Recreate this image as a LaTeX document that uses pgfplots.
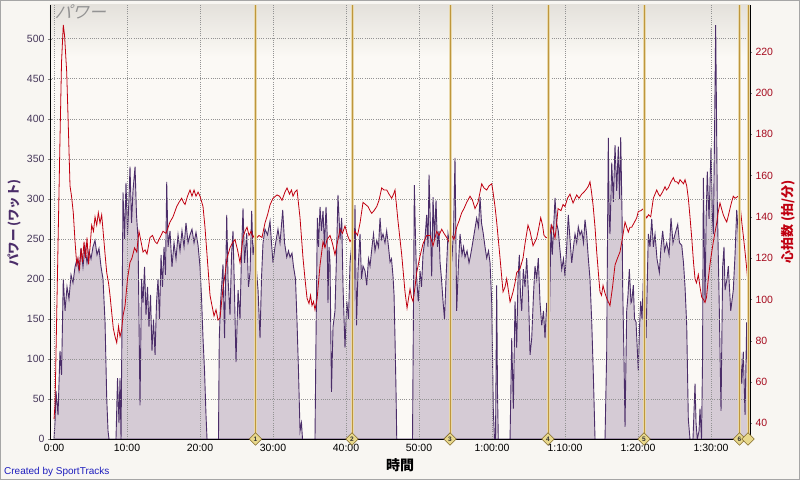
\documentclass[border=0pt]{standalone}
\usepackage{fontspec}
\setmainfont{Liberation Sans}
\newfontfamily\cjk{Noto Sans CJK JP}
\usepackage{pgfplots}
\pgfplotsset{compat=1.18}

\definecolor{outerbg}{RGB}{248,246,242}
\definecolor{plotbg}{RGB}{251,249,245}
\definecolor{plottop}{RGB}{228,225,219}
\definecolor{powline}{RGB}{75,45,105}
\definecolor{powfill}{RGB}{213,203,213}
\definecolor{hrline}{RGB}{192,0,16}
\definecolor{powtick}{RGB}{70,55,90}
\definecolor{hrtick}{RGB}{165,10,30}
\definecolor{lapline}{RGB}{190,150,60}
\definecolor{lapglow}{RGB}{232,216,170}
\definecolor{lapfill}{RGB}{232,216,140}
\definecolor{lapedge}{RGB}{130,105,40}
\definecolor{created}{RGB}{30,30,190}
\pgfdeclareverticalshading{plotshade}{100bp}{color(0bp)=(plotbg); color(69bp)=(plotbg); color(75bp)=(plottop); color(100bp)=(plottop)}

\pgfplotsset{
  base/.style={at={(50pt,41pt)}, anchor=south west, scale only axis,
    width=700pt, height=434pt, xmin=-0.55, xmax=95.34},
  ticks/.style={tick align=outside, major tick length=4pt,
    tick label style={font=\fontsize{10.5}{12}\selectfont},
    /pgf/number format/assume math mode=true},
}

\begin{document}
\begin{tikzpicture}
\useasboundingbox (0,0) rectangle (800pt,480pt);
\fill[outerbg] (0,0) rectangle (800pt,480pt);
\draw[gray!70] (0.5pt,0.5pt) rectangle (799.5pt,479.5pt);

% power
\begin{axis}[base, ticks,
    ymin=0, ymax=542,
    axis x line=bottom, axis y line=left, axis line style={-, black},
    axis background/.style={shade, shading=plotshade},
    axis on top,
    xtick={0,10,...,90},
    xticklabels={0:00,10:00,20:00,30:00,40:00,50:00,1:00:00,1:10:00,1:20:00,1:30:00},
    xtick style={draw=none},
    ytick={0,50,...,500},
    yticklabel style={text=powtick},
    grid=major, grid style={gray!85, dash pattern=on 1pt off 1.2pt},
  ]
  \addplot[draw=powline, fill=powfill, line width=0.9pt] coordinates {
(0,0)(0.14,22)(0.27,60)(0.55,30)(0.82,110)(1.03,80)(1.27,200)(1.51,160)(1.78,190)(2.05,175)(2.33,205)(2.60,195)(2.88,215)(3.15,225)(3.42,210)(3.70,238)(3.97,215)(4.25,240)(4.52,220)(4.79,235)(5.07,225)(5.34,240)(5.62,248)(5.89,230)(6.16,238)(6.44,215)(6.71,200)(6.99,146)(7.22,51)(7.40,10)(7.53,0)(8.49,0)(8.70,76)(8.90,20)(9.04,76)(9.18,0)(9.32,150)(9.45,308)(9.66,250)(9.86,320)(10.07,255)(10.27,300)(10.41,340)(10.62,270)(10.82,310)(11.10,340)(11.30,280)(11.51,250)(11.78,42)(11.99,200)(12.19,170)(12.40,215)(12.60,155)(12.81,190)(13.01,140)(13.22,180)(13.42,110)(13.63,150)(13.84,105)(14.04,170)(14.25,200)(14.45,150)(14.66,230)(14.86,190)(15.07,240)(15.27,205)(15.44,321)(15.62,240)(15.89,260)(16.16,215)(16.44,245)(16.71,225)(16.99,255)(17.26,235)(17.53,260)(17.81,240)(18.08,270)(18.36,245)(18.63,255)(18.90,262)(19.18,245)(19.45,258)(19.73,242)(20.00,215)(20.21,176)(20.41,126)(20.62,85)(20.82,30)(20.96,0)
(22.53,0)(22.64,126)(22.81,170)(22.97,192)(23.15,218)(23.36,126)(23.66,280)(23.84,200)(24.11,155)(24.32,230)(24.52,260)(24.73,180)(24.93,96)(25.21,186)(25.48,150)(25.68,230)(25.89,288)(26.10,220)(26.40,257)(26.64,190)(26.85,208)(27.08,285)(27.26,230)(27.53,250)(27.74,210)(27.95,186)(28.22,126)(28.42,200)(28.63,245)(28.90,262)(29.25,255)(29.59,272)(29.79,245)(30.00,220)(30.27,240)(30.68,262)(30.96,245)(31.33,286)(31.58,245)(31.88,227)(32.12,235)(32.33,227)(32.60,232)(32.81,215)(33.08,200)(33.29,146)(33.49,85)(33.70,10)(33.90,20)(34.04,0)
(35.75,0)(35.89,126)(36.07,276)(36.23,240)(36.44,290)(36.64,260)(36.85,285)(37.05,240)(37.26,290)(37.40,260)(37.53,170)(37.67,240)(37.81,220)(38.01,59)(38.22,140)(38.49,160)(38.70,230)(38.90,305)(39.18,250)(39.41,276)(39.59,190)(39.86,114)(40.10,172)(40.34,150)(40.55,220)(40.75,240)(40.92,126)(41.10,200)(41.23,292)(41.44,142)(41.64,210)(41.92,256)(42.12,200)(42.33,216)(42.60,210)(42.84,192)(43.08,225)(43.29,216)(43.56,240)(43.77,256)(43.97,235)(44.21,248)(44.45,240)(44.66,276)(44.86,250)(45.07,256)(45.34,245)(45.57,260)(45.82,240)(46.03,221)(46.23,225)(46.44,203)(46.58,180)(46.71,126)(46.85,60)(46.95,0)
(49.11,0)(49.36,317)(49.52,250)(49.66,203)(49.90,172)(50.14,210)(50.34,190)(50.55,231)(50.82,250)(51.05,280)(51.23,240)(51.37,330)(51.58,260)(51.74,203)(51.92,302)(52.12,250)(52.33,298)(52.53,240)(52.74,260)(52.88,221)(53.08,200)(53.29,172)(53.49,150)(53.70,200)(53.97,256)(54.25,240)(54.48,221)(54.73,260)(54.93,351)(55.16,160)(55.41,220)(55.62,256)(55.89,230)(56.10,240)(56.30,227)(56.58,235)(56.85,220)(56.99,226)(57.26,240)(57.53,255)(57.90,276)(58.15,265)(58.36,302)(58.56,270)(58.81,256)(59.04,240)(59.27,226)(59.52,235)(59.73,220)(59.96,170)(60.18,35)(60.34,0)(60.48,0)(60.64,192)(60.75,60)(60.86,0)
(62.47,0)(62.70,126)(62.92,38)(63.15,172)(63.38,114)(63.56,200)(63.74,230)(63.90,180)(64.07,160)(64.29,212)(64.52,190)(64.75,226)(65.00,180)(65.21,105)(65.44,126)(65.68,180)(65.89,216)(66.12,200)(66.34,226)(66.58,170)(66.81,142)(67.05,160)(67.26,126)(67.49,170)(67.67,150)(67.85,142)(68.08,268)(68.25,230)(68.40,256)(68.63,301)(68.84,270)(69.08,260)(69.32,235)(69.55,212)(69.79,225)(70.00,203)(70.23,240)(70.45,280)(70.68,250)(70.92,220)(71.16,240)(71.37,256)(71.60,245)(71.82,265)(72.05,255)(72.29,260)(72.53,245)(72.74,274)(72.97,255)(73.19,226)(73.42,200)(73.66,146)(73.88,80)(74.11,0)
(75.48,0)(75.71,109)(75.82,250)(75.93,376)(76.05,280)(76.16,256)(76.40,345)(76.62,296)(76.85,367)(77.08,310)(77.30,365)(77.47,300)(77.63,377)(77.81,280)(77.90,190)(78.08,100)(78.22,15)(78.45,160)(78.63,180)(78.81,212)(79.04,170)(79.14,172)(79.36,192)(79.52,150)(79.73,146)(79.86,120)(80.04,85)(80.21,140)(80.37,172)(80.55,150)(80.73,200)(80.89,180)(81.10,126)(81.23,180)(81.41,256)(81.64,240)(81.88,275)(82.10,240)(82.33,256)(82.60,225)(82.92,208)(83.15,240)(83.38,260)(83.63,235)(83.93,245)(84.25,230)(84.52,276)(84.79,245)(85.07,256)(85.44,268)(85.68,245)(85.99,242)(86.23,220)(86.44,190)(86.67,142)(86.89,25)(87.12,0)
(87.53,0)(87.81,69)(87.95,20)(88.12,0)(88.36,10)(88.49,38)(88.70,0)(88.84,100)(88.95,326)(89.18,172)(89.34,280)(89.49,334)(89.73,275)(90.00,364)(90.18,280)(90.32,256)(90.48,380)(90.64,517)(90.86,296)(91.14,160)(91.37,35)(91.60,216)(91.78,240)(91.92,186)(92.19,200)(92.37,216)(92.70,160)(93.05,186)(93.29,230)(93.52,286)(93.74,256)(93.97,126)(94.21,69)(94.42,109)(94.66,30)(94.89,146)(95.11,35)
  } \closedcycle;
\end{axis}

% heart rate
\begin{axis}[base, ticks,
    ymin=32.4, ymax=242.6,
    axis x line=none, axis y line=right, axis line style={-, black, line width=1pt},
    ytick={40,60,...,220},
    yticklabel style={text=hrtick},
  ]
  \addplot[hrline, line width=0.8pt] coordinates {
(0,42)(0.14,49)(0.41,100)(0.62,140)(0.82,178)(1.03,215)(1.27,233)(1.44,228)(1.74,210)(1.99,180)(2.19,155)(2.40,150)(2.64,142)(2.88,128)(3.11,117)(3.29,120)(3.49,114)(3.70,125)(3.90,118)(4.11,128)(4.32,120)(4.52,130)(4.73,117)(4.93,125)(5.16,136)(5.41,133)(5.62,140)(5.85,136)(6.07,142)(6.30,137)(6.53,141)(6.75,132)(6.99,122)(7.22,113)(7.47,108)(7.67,102)(7.95,92)(8.12,86)(8.36,82)(8.59,79)(8.84,87)(9.04,82)(9.25,85)(9.45,92)(9.73,97)(10.07,110)(10.41,118)(10.68,120)(11.03,125)(11.33,123)(11.64,133)(11.92,128)(12.19,123)(12.47,124)(12.74,122)(13.15,130)(13.49,131)(13.84,128)(14.11,127)(14.52,130)(14.93,133)(15.34,132)(15.89,137.5)(16.30,140)(16.81,145)(17.12,147)(17.49,149)(17.74,147)(17.95,146)(18.29,150)(18.63,153)(18.90,150)(19.18,153)(19.45,150)(19.73,152)(20.00,150)
(20.41,145)(20.68,135)(20.96,121.6)(21.37,102)(21.64,97)(21.92,92)(22.19,95)(22.47,90)(22.74,91)(23.15,105.5)(23.42,112)(23.70,120)(24.11,125)(24.38,127)(24.79,129)(25.14,124)(25.48,117.8)(25.89,130)(26.16,133)(26.44,135)(26.71,131)(26.99,133)(27.26,130)(27.53,132)(27.81,130)(28.08,131)(28.49,130)(28.90,137)(29.25,141)(29.59,145.8)(30.00,149)(30.55,150.6)(30.89,150)(31.23,148)(31.64,152)(31.92,154)(32.26,151)(32.53,153)(32.74,150)(33.01,152)(33.29,153)(33.70,139.5)(34.11,120)(34.38,110)(34.66,100.6)(34.93,98)(35.14,102)(35.34,97)(35.55,99)(35.75,95)(36.03,100)(36.44,116.6)(36.85,128)(37.12,125)(37.40,129)(37.81,131)
(38.15,127)(38.49,121.6)(38.84,128)(39.18,134)(39.52,132)(39.86,135.6)(40.21,131)(40.55,128)(40.89,130)(41.23,133)(41.58,131)(41.92,137)(42.33,147)(42.67,146)(43.01,145)(43.29,143)(43.52,141.7)(43.84,143)(44.21,145)(44.52,148)(44.89,154)(45.21,153)(45.58,153)(45.89,151)(46.26,149)(46.51,151)(46.71,153)(47.12,138)(47.63,121.6)(48.08,103.7)(48.36,95.8)(48.63,102)(48.77,105)(48.97,101)(49.18,99)(49.45,106)(49.68,113)(50.14,121)(50.55,127)(51.05,131)(51.51,131)(51.92,126)(52.42,133)(52.74,131)(53.11,134)(53.42,132)(53.79,130)(54.11,128)(54.48,131)(54.79,129)(55.16,135)(55.48,138)(55.85,142)(56.16,144)(56.53,147)
(56.99,150)(57.33,148)(57.67,144)(58.08,147)(58.36,152)(58.59,156)(58.90,154)(59.27,153)(59.59,155)(59.96,156)(60.14,152)(60.41,145)(60.64,137.5)(60.89,128)(61.10,120)(61.30,112)(61.51,103.7)(61.78,106)(62.01,110)(62.26,104)(62.47,98.8)(62.67,101)(62.88,103.7)(63.15,108)(63.38,113)(63.63,114)(63.84,115)(64.25,120)(64.52,127)(64.93,136)(65.21,133)(65.62,126)(65.89,128)(66.12,129.7)(66.37,134)(66.67,139.6)(66.92,136)(67.12,131)(67.40,130)(67.67,129.7)(67.95,132)(68.18,136)(68.42,133)(68.63,129.7)(68.84,136)(69.04,144)(69.45,143)(69.73,146)(70.00,145)(70.34,149)(70.68,151)(71.10,146.7)(71.60,150.6)(71.92,149)(72.29,151)(72.60,152)(72.97,153.6)(73.22,155)(73.42,157)(73.63,152)(73.84,145.8)(74.11,135)(74.34,123)(74.59,112)(74.79,103.7)(75.00,102)(75.21,106.8)(75.48,103)(75.71,100.6)(76.16,97)
(76.51,106)(76.85,116.7)(77.19,120)(77.53,123)(77.88,130)(78.22,137.5)(78.45,135)(78.67,132.6)(78.90,135)(79.14,135)(79.45,137)(79.82,139.5)(80.04,142.6)(80.41,143)(80.73,144)(80.96,141)(81.19,139.5)(81.44,141)(81.74,140)(82.10,149)(82.33,151)(82.56,153)(82.81,151)(83.01,150)(83.36,152)(83.70,154.6)(83.90,153)(84.15,154)(84.52,157)(84.84,159)(85.07,157)(85.30,157)(85.55,156)(85.75,158)(85.99,157)(86.23,156)(86.44,158)(86.67,155)(86.89,149)(87.12,140)(87.36,129.7)(87.60,118)(87.81,110)(88.01,108)(88.26,112)(88.49,106)(88.73,101)(88.97,100)(89.18,98.5)(89.38,101)(89.63,110)(89.86,117)(90.10,123)(90.32,128)(90.55,132.6)(90.78,137)(91.00,142.6)(91.23,146.7)(91.44,144)(91.68,141)(91.92,139)(92.15,137.5)(92.40,141)(92.60,144)(92.81,147)(93.05,150)(93.29,149)(93.74,150)(93.97,146)(94.21,137.5)(94.42,131)(94.66,123)(94.89,115)(95.11,106)
  };
\end{axis}

% laps
\begin{axis}[base, ymin=0, ymax=542, hide axis, clip=false]
  \addplot[ycomb, draw=lapglow, line width=3pt, no marks] coordinates {
    (27.60,542)(40.82,542)(54.25,542)(67.67,542)(80.82,542)(93.90,542)(95.07,542)};
  \addplot[ycomb, draw=lapline, line width=1pt, no marks] coordinates {
    (27.60,542)(40.82,542)(54.25,542)(67.67,542)(80.82,542)(93.90,542)(95.07,542)};
  \addplot[only marks, mark=square*, mark size=4.4pt,
    mark options={rotate=45, fill=lapfill, draw=lapedge, line width=0.6pt},
    point meta=explicit symbolic, nodes near coords,
    nodes near coords style={anchor=center, inner sep=0pt,
      font=\fontsize{6.5}{7}\selectfont\bfseries, text=black!80}]
    coordinates {(27.60,0) [1] (40.82,0) [2] (54.25,0) [3] (67.67,0) [4]
      (80.82,0) [5] (93.90,0) [6]};
  \addplot[only marks, mark=square*, mark size=4.4pt,
    mark options={rotate=45, fill=lapfill, draw=lapedge, line width=0.6pt}]
    coordinates {(95.07,0)};
\end{axis}

\begin{scope}
  \clip (50pt,41pt) rectangle (750pt,475pt);
  \node[anchor=west, text=gray!85, xslant=0.3, font=\cjk\fontsize{17}{18}\selectfont]
    at (53pt,468pt) {パワー};
\end{scope}
\node[rotate=90, text=powline, font=\cjk\bfseries\fontsize{12.5}{14}\selectfont] at (14pt,257pt) {パワー (ワット)};
\node[rotate=90, text=hrline, font=\cjk\bfseries\fontsize{13}{14}\selectfont] at (788pt,258pt) {心拍数 (拍/分)};
\node[font=\cjk\bfseries\fontsize{14}{16}\selectfont] at (400pt,15pt) {時間};
\node[anchor=west, text=created, font=\fontsize{10}{12}\selectfont, inner sep=0pt] at (4pt,8.5pt) {Created by SportTracks};
\end{tikzpicture}
\end{document}
